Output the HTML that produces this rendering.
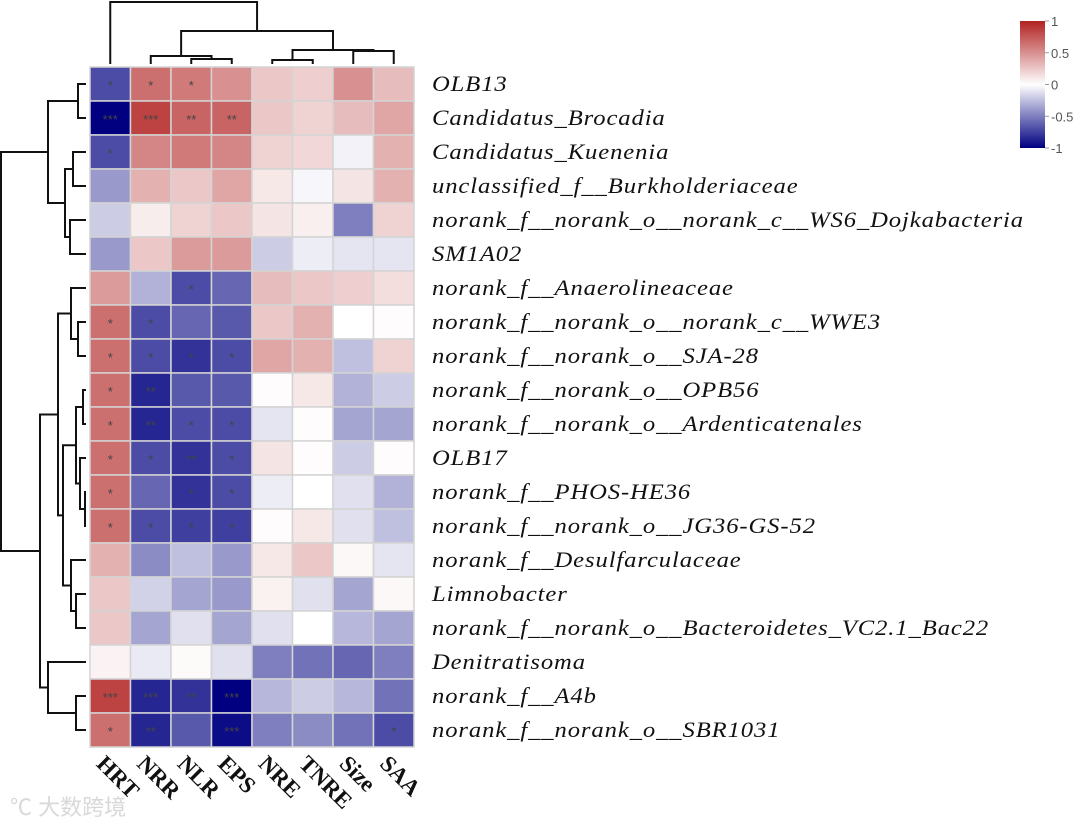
<!DOCTYPE html>
<html><head><meta charset="utf-8"><style>
html,body{margin:0;padding:0;background:#fff;width:1080px;height:830px;overflow:hidden}
svg{display:block}
</style></head><body>
<svg id="chart" width="1080" height="830" xmlns="http://www.w3.org/2000/svg"></svg>
<script>
const rowLabels=["OLB13","Candidatus_Brocadia","Candidatus_Kuenenia","unclassified_f__Burkholderiaceae","norank_f__norank_o__norank_c__WS6_Dojkabacteria","SM1A02","norank_f__Anaerolineaceae","norank_f__norank_o__norank_c__WWE3","norank_f__norank_o__SJA-28","norank_f__norank_o__OPB56","norank_f__norank_o__Ardenticatenales","OLB17","norank_f__PHOS-HE36","norank_f__norank_o__JG36-GS-52","norank_f__Desulfarculaceae","Limnobacter","norank_f__norank_o__Bacteroidetes_VC2.1_Bac22","Denitratisoma","norank_f__A4b","norank_f__norank_o__SBR1031"];
const colLabels=["HRT","NRR","NLR","EPS","NRE","TNRE","Size","SAA"];
const values=[
[-0.7,0.65,0.6,0.5,0.25,0.22,0.5,0.3],
[-1,0.85,0.7,0.7,0.25,0.2,0.3,0.4],
[-0.7,0.55,0.6,0.55,0.2,0.18,-0.05,0.35],
[-0.4,0.35,0.25,0.4,0.1,-0.03,0.12,0.35],
[-0.2,0.08,0.2,0.25,0.12,0.07,-0.5,0.2],
[-0.4,0.25,0.45,0.45,-0.2,-0.07,-0.1,-0.1],
[0.45,-0.3,-0.7,-0.6,0.3,0.25,0.22,0.15],
[0.65,-0.7,-0.6,-0.65,0.25,0.35,0,0.01],
[0.65,-0.7,-0.8,-0.7,0.4,0.35,-0.25,0.2],
[0.65,-0.85,-0.65,-0.65,0.01,0.1,-0.3,-0.2],
[0.65,-0.85,-0.7,-0.7,-0.1,0.01,-0.35,-0.35],
[0.65,-0.7,-0.8,-0.7,0.12,0.01,-0.2,0.01],
[0.65,-0.6,-0.8,-0.7,-0.07,0,-0.12,-0.3],
[0.65,-0.7,-0.75,-0.75,0.01,0.1,-0.12,-0.25],
[0.35,-0.45,-0.25,-0.4,0.1,0.25,0.03,-0.1],
[0.25,-0.18,-0.35,-0.4,0.06,-0.12,-0.35,0.03],
[0.25,-0.35,-0.12,-0.35,-0.12,0,-0.28,-0.35],
[0.05,-0.08,0.02,-0.12,-0.5,-0.55,-0.6,-0.5],
[0.85,-0.85,-0.8,-1,-0.28,-0.2,-0.28,-0.55],
[0.65,-0.85,-0.65,-0.95,-0.5,-0.45,-0.55,-0.7]];
const stars=[
["*","*","*","","","","",""],
["***","***","**","**","","","",""],
["*","","","","","","",""],
["","","","","","","",""],
["","","","","","","",""],
["","","","","","","",""],
["","","*","","","","",""],
["*","*","","","","","",""],
["*","*","*","*","","","",""],
["*","**","","","","","",""],
["*","**","*","*","","","",""],
["*","*","**","*","","","",""],
["*","","*","*","","","",""],
["*","*","*","*","","","",""],
["","","","","","","",""],
["","","","","","","",""],
["","","","","","","",""],
["","","","","","","",""],
["***","***","**","***","","","",""],
["*","**","","***","","","","*"]];
const legendTicks=[1,0.5,0,-0.5,-1];
const rowTree=[[[0,1,8],[[2,3,13],[4,5,16],21],38],[[[6,[7,8,8],15],[[[9,10,3],[11,[12,13,1],6],10],[14,[15,16,10],15],23],28],[17,[18,19,10],38],46],85];
const colTree=[0,[[1,[2,3,5],8],[[4,5,4],[6,7,13],14],33],62];

const svg=document.getElementById('chart');
const NS='http://www.w3.org/2000/svg';
const X0=90,Y0=67,CW=40.5,RH=34;
function mk(tag,attrs,parent){const e=document.createElementNS(NS,tag);for(const k in attrs)e.setAttribute(k,attrs[k]);(parent||svg).appendChild(e);return e;}
function xCol(i){return X0+CW*i;}
function yRow(i){return Y0+RH*i;}
function color(v){
  v=Math.max(-1,Math.min(1,v));
  let r,g,b;
  if(v>=0){r=255+(178-255)*v;g=255+(34-255)*v;b=255+(34-255)*v;}
  else{const t=-v;r=255*(1-t);g=255*(1-t);b=255+(128-255)*t;}
  return `rgb(${r|0},${g|0},${b|0})`;
}
const gCells=mk('g',{});


values.forEach((row,i)=>row.forEach((v,j)=>{
  const r=mk('rect',{x:xCol(j),y:yRow(i),width:CW,height:RH,fill:color(v),stroke:'#d4d4d4','stroke-width':1.5},gCells);
  
  
  const s=stars[i][j];
  if(s){const t=mk('text',{x:xCol(j)+CW/2,y:yRow(i)+RH/2+6,'text-anchor':'middle','font-family':'Liberation Sans, sans-serif','font-size':13,fill:'#444'},gCells);t.textContent=s;
  
  }
}));
rowLabels.forEach((l,i)=>{
  const y=yRow(i)+RH/2+7;
  const t=mk('text',{x:0,y:0,transform:`translate(432 ${y}) scale(1.12 1)`,'font-family':'Liberation Serif, serif','font-style':'italic','font-size':22,'letter-spacing':0.8,fill:'#111'});
  t.textContent=l;
  
  
});
colLabels.forEach((l,j)=>{
  const cx=xCol(j)+CW/2-15, cy=765;
  const t=mk('text',{x:cx,y:cy,transform:`rotate(45 ${cx} ${cy})`,'font-family':'Liberation Serif, serif','font-weight':'bold','font-size':23,fill:'#111'});
  t.textContent=l;
  
  
});
const gD=mk('g',{stroke:'#111','stroke-width':2,fill:'none'});


function rowNode(n){
  if(typeof n==='number')return [yRow(n)+RH/2,0];
  const a=rowNode(n[0]),b=rowNode(n[1]),h=n[2];
  const x=X0-4-h;
  mk('path',{d:`M${X0-4-a[1]},${a[0]}H${x}V${b[0]}H${X0-4-b[1]}`},gD);
  return [(a[0]+b[0])/2,h];
}
function colNode(n){
  if(typeof n==='number')return [xCol(n)+CW/2,0];
  const a=colNode(n[0]),b=colNode(n[1]),h=n[2];
  const y=Y0-3-h;
  mk('path',{d:`M${a[0]},${Y0-3-a[1]}V${y}H${b[0]}V${Y0-3-b[1]}`},gD);
  return [(a[0]+b[0])/2,h];
}
rowNode(rowTree);colNode(colTree);
const defs=mk('defs',{});
const lg=mk('linearGradient',{id:'lg',x1:0,y1:0,x2:0,y2:1},defs);
[[0,1],[0.25,0.5],[0.5,0],[0.75,-0.5],[1,-1]].forEach(s=>mk('stop',{offset:s[0],'stop-color':color(s[1])},lg));
const gL=mk('g',{});


const LY0=21,LY1=148;
mk('rect',{x:1020,y:LY0,width:25,height:LY1-LY0,fill:'url(#lg)'},gL);
legendTicks.forEach(v=>{
  const y=LY0+(1-v)/2*(LY1-LY0);
  mk('line',{x1:1045,x2:1049,y1:y,y2:y,stroke:'#999'},gL);
  const t=mk('text',{x:1051,y:y+5,'font-family':'Liberation Sans, sans-serif','font-size':13,fill:'#555'},gL);
  t.textContent=String(v);
  
  
});
const wm=mk('text',{x:10,y:815,'font-family':'Liberation Sans, "Noto Sans CJK SC", sans-serif','font-size':22,fill:'#d8d8d8'});
wm.textContent='℃ 大数跨境';


</script>
</body></html>
